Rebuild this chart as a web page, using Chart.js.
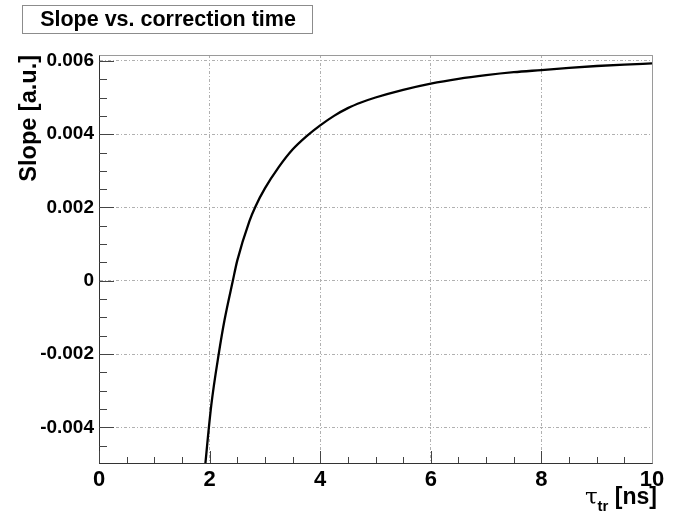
<!DOCTYPE html>
<html>
<head>
<meta charset="utf-8">
<script src="https://cdn.jsdelivr.net/npm/chart.js@4/dist/chart.umd.min.js"></script>
<style>
  html, body { margin: 0; padding: 0; background: #fff; }
  #wrap { width: 673px; height: 518px; }
</style>
</head>
<body>
<div id="wrap"><canvas id="slopeChart" width="673" height="518"></canvas></div>
<script>
//---------------------------------------------------------------------------
// Slope of the corrected signal vs. correction time tau_tr
const tauValues = [1.9, 2.03, 2.17, 2.27, 2.42, 2.5, 2.72, 2.83, 3.0, 3.25, 3.5, 3.75,
                   4.0, 4.25, 4.5, 4.75, 5.0, 5.5, 6.0, 6.5, 7.0, 7.5, 8.0, 8.5, 9.0, 9.5, 10.0];
const slopeValues = [-0.00535, -0.0034, -0.00195, -0.00107, 0.0, 0.00055, 0.00163, 0.00203,
                     0.00252, 0.0031, 0.00358, 0.00394, 0.00424, 0.0045, 0.00471, 0.00487,
                     0.005, 0.00521, 0.00538, 0.00551, 0.00561, 0.00569, 0.00575, 0.00581,
                     0.00586, 0.0059, 0.00593];

const xTicks = [0, 2, 4, 6, 8, 10];
const xTickLabels = ['0', '2', '4', '6', '8', '10'];
const yTicks = [-0.004, -0.002, 0, 0.002, 0.004, 0.006];
const yTickLabels = ['-0.004', '-0.002', '0', '0.002', '0.004', '0.006'];

const chartTitle = 'Slope vs. correction time';
const yTitle = 'Slope [a.u.]';

const X_MIN = 0, X_MAX = 10, Y_MIN = -0.00497, Y_MAX = 0.00616;
const X_MINOR = 0.5, Y_MINOR = 0.0005;
const FONT = "'Liberation Sans', Arial, Helvetica, sans-serif";
const GRID_COLOR = '#b0b0b0';
const GRID_DASH = [3, 2, 1, 2];
//---------------------------------------------------------------------------
const points = tauValues.map((t, i) => ({ x: t, y: slopeValues[i] }));

const labelFor = (vals, labels) => (v) => {
    const i = vals.findIndex(t => Math.abs(t - v) < 1e-9);
    return i === -1 ? '' : labels[i];
};

// ROOT-like ticks drawn inward from the bottom and left axes
const inwardTicks = {
    id: 'inwardTicks',
    afterDatasetsDraw(chart) {
        const { ctx, chartArea: a, scales: { x, y } } = chart;
        ctx.save();
        ctx.strokeStyle = '#444';
        ctx.lineWidth = 1;
        ctx.beginPath();
        for (let k = Math.ceil(X_MIN / X_MINOR); k * X_MINOR <= X_MAX + 1e-9; k++) {
            const px = Math.round(x.getPixelForValue(k * X_MINOR)) + 0.5;
            const len = (k % 4 === 0) ? 12 : 6;
            ctx.moveTo(px, a.bottom);
            ctx.lineTo(px, a.bottom - len);
        }
        for (let k = Math.ceil(Y_MIN / Y_MINOR); k * Y_MINOR <= Y_MAX + 1e-12; k++) {
            const py = Math.round(y.getPixelForValue(k * Y_MINOR)) + 0.5;
            const len = (k % 4 === 0) ? 15 : 8;
            ctx.moveTo(a.left, py);
            ctx.lineTo(a.left + len, py);
        }
        ctx.stroke();
        ctx.restore();
    }
};

// Frame, title box and the x axis title with its subscript
const decorations = {
    id: 'decorations',
    afterDraw(chart) {
        const { ctx, chartArea: a } = chart;
        ctx.save();
        // upper and right frame edges
        ctx.strokeStyle = '#9a9a9a';
        ctx.lineWidth = 1;
        ctx.beginPath();
        ctx.moveTo(Math.round(a.left) + 0.5, Math.round(a.top) + 0.5);
        ctx.lineTo(Math.round(a.right) + 0.5, Math.round(a.top) + 0.5);
        ctx.lineTo(Math.round(a.right) + 0.5, Math.round(a.bottom) + 0.5);
        ctx.stroke();

        // title box
        ctx.fillStyle = '#fff';
        ctx.fillRect(22.5, 5.5, 290, 28);
        ctx.strokeStyle = '#8c8c8c';
        ctx.strokeRect(22.5, 5.5, 290, 28);
        ctx.fillStyle = '#000';
        ctx.font = 'bold 21.5px ' + FONT;
        ctx.textAlign = 'center';
        ctx.textBaseline = 'middle';
        ctx.fillText(chartTitle, 168, 20);

        // x axis title: tau_tr [ns], right aligned on the frame edge
        const base = 504;
        const partA = '\u03C4', partB = 'tr', partC = ' [ns]';
        const fA = "23px 'DejaVu Serif', 'Liberation Serif', serif";
        const fB = 'bold 15px ' + FONT;
        const fC = 'bold 23px ' + FONT;
        ctx.textAlign = 'left';
        ctx.textBaseline = 'alphabetic';
        ctx.font = fC; const wC = ctx.measureText(partC).width;
        ctx.font = fB; const wB = ctx.measureText(partB).width;
        ctx.font = fA; const wA = ctx.measureText(partA).width;
        let xs = a.right + 5 - wC - wB - wA;
        ctx.fillText(partA, xs, base);
        xs += wA;
        ctx.font = fB;
        ctx.fillText(partB, xs, base + 7);
        xs += wB;
        ctx.font = fC;
        ctx.fillText(partC, xs, base);
        ctx.restore();
    }
};

new Chart(document.getElementById('slopeChart'), {
    type: 'line',
    data: {
        datasets: [{
            label: 'slope',
            data: points,
            borderColor: '#000',
            borderWidth: 2.3,
            pointRadius: 0,
            cubicInterpolationMode: 'monotone',
            fill: false
        }]
    },
    options: {
        responsive: false,
        animation: false,
        events: [],
        layout: { padding: { left: 0, top: 55, right: 21, bottom: 0 } },
        plugins: {
            legend: { display: false },
            tooltip: { enabled: false },
            title: { display: false }
        },
        scales: {
            x: {
                type: 'linear',
                min: X_MIN,
                max: X_MAX,
                afterBuildTicks: (scale) => { scale.ticks = xTicks.map(v => ({ value: v })); },
                afterFit: (scale) => { scale.height = 55; },
                ticks: {
                    callback: labelFor(xTicks, xTickLabels),
                    color: '#000',
                    padding: 4,
                    maxRotation: 0,
                    autoSkip: false,
                    font: { family: FONT, size: 22, weight: 'bold' }
                },
                grid: { color: GRID_COLOR, drawTicks: false, lineWidth: 1 },
                border: { display: true, color: '#333', width: 1, dash: GRID_DASH }
            },
            y: {
                type: 'linear',
                min: Y_MIN,
                max: Y_MAX,
                afterBuildTicks: (scale) => { scale.ticks = yTicks.map(v => ({ value: v })); },
                afterFit: (scale) => { scale.width = 99; },
                ticks: {
                    callback: labelFor(yTicks, yTickLabels),
                    color: '#000',
                    padding: 5,
                    autoSkip: false,
                    font: { family: FONT, size: 19, weight: 'bold' }
                },
                title: {
                    display: true,
                    text: yTitle,
                    align: 'end',
                    color: '#000',
                    padding: { top: 15, bottom: 0 },
                    font: { family: FONT, size: 23.5, weight: 'bold' }
                },
                grid: { color: GRID_COLOR, drawTicks: false, lineWidth: 1 },
                border: { display: true, color: '#333', width: 1, dash: GRID_DASH }
            }
        }
    },
    plugins: [inwardTicks, decorations]
});
</script>
</body>
</html>
